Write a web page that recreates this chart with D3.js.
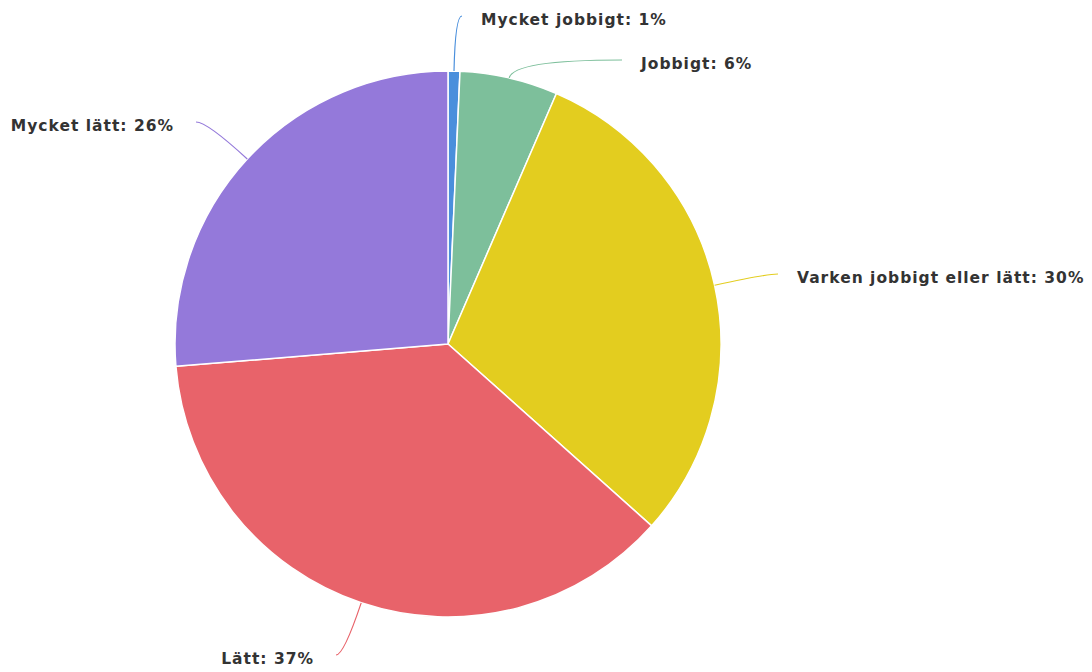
<!DOCTYPE html>
<html>
<head>
<meta charset="utf-8">
<script src="https://cdn.jsdelivr.net/npm/d3@7"></script>
<style>
  body { margin: 0; background: #fff; }
  text { font-family: "DejaVu Sans", sans-serif; font-size: 15.5px; font-weight: bold; letter-spacing: 1px; fill: #333; }
</style>
</head>
<body>
<main></main>
<script>
const width = 1092;
const height = 672;

// data
const categories = ["Mycket jobbigt", "Jobbigt", "Varken jobbigt eller lätt", "Lätt", "Mycket lätt"];
const values = [0.7, 5.8, 30.1, 37.1, 26.3];
const colors = ["#4a8fdc", "#7dbf9b", "#e3cd1f", "#e8636a", "#9479da"];

// layout: where each label's connector ends, and the text anchor
const labelEnds = [[462, 16], [622, 60], [778, 274], [336, 655], [196, 122]];
const labelAnchors = ["start", "start", "start", "end", "end"];

const cx = 448, cy = 344, r = 273;

const svg = d3.select("main")
    .append("svg")
        .attr("width", width)
        .attr("height", height);

const pie = d3.pie().sort(null).value(d => d.value);
const arc = d3.arc().innerRadius(0).outerRadius(r);

const data = categories.map((c, i) => ({name: c, value: values[i], color: colors[i]}));
const arcs = pie(data);

const g = svg.append("g").attr("transform", `translate(${cx},${cy})`);

g.selectAll("path.slice")
    .data(arcs)
    .join("path")
        .attr("class", "slice")
        .attr("d", arc)
        .attr("fill", d => d.data.color)
        .attr("stroke", "#fff")
        .attr("stroke-width", 1.5)
        .attr("stroke-linejoin", "round");

// connectors: go out radially, then bend into the label
g.selectAll("path.conn")
    .data(arcs)
    .join("path")
        .attr("class", "conn")
        .attr("fill", "none")
        .attr("stroke", d => d.data.color)
        .attr("stroke-width", 1.2)
        .attr("d", (d, i) => {
            const a = (d.startAngle + d.endAngle) / 2;
            const ux = Math.sin(a), uy = -Math.cos(a);
            const sx = ux * r, sy = uy * r;
            const ex = labelEnds[i][0] - cx, ey = labelEnds[i][1] - cy;
            const t = Math.abs(uy) > 0.05 ? (ey - sy) / uy : 0;
            let qx = sx + ux * t;
            if ((ex - qx) * (ex - sx) < 0) qx = ex;
            return `M${sx},${sy}Q${qx},${ey} ${ex},${ey}`;
        });

// labels
svg.selectAll("text.label")
    .data(arcs)
    .join("text")
        .attr("class", "label")
        .attr("x", (d, i) => labelEnds[i][0] + (labelAnchors[i] === "start" ? 19 : -22))
        .attr("y", (d, i) => labelEnds[i][1] + 4)
        .attr("dy", "0.35em")
        .attr("text-anchor", (d, i) => labelAnchors[i])
        .text(d => `${d.data.name}: ${Math.round(d.data.value)}%`);
</script>
</body>
</html>
